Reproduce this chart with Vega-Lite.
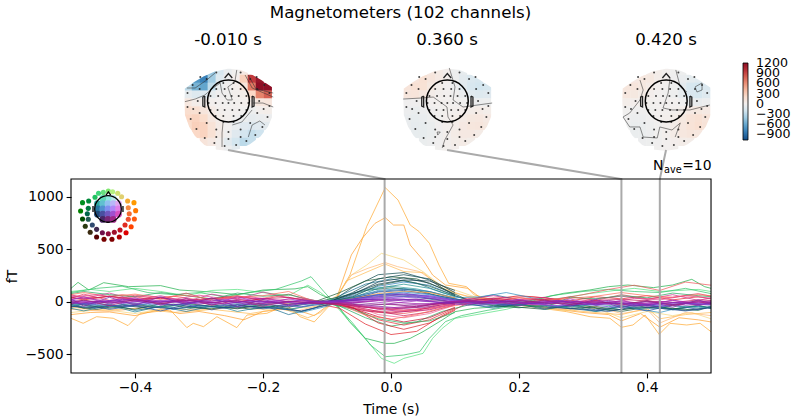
{"$schema":"https://vega.github.io/schema/vega-lite/v6.json","width":719,"height":348,"autosize":{"type":"none"},"padding":{"left":71,"top":25,"right":10,"bottom":47},"background":"white","config":{"font":"DejaVu Sans","view":{"stroke":null}},"title":{"text":"Magnetometers (102 channels)","fontSize":16.67,"fontWeight":"normal","anchor":"middle","frame":"group","dx":-30,"offset":3,"color":"black"},"encoding":{"x":{"field":"x","type":"quantitative","scale":{"domain":[-0.5,0.6234],"nice":false,"zero":false},"axis":{"values":[-0.4,-0.2,0,0.2,0.4],"format":".1f","grid":false,"domain":false,"tickColor":"black","tickSize":4.9,"tickWidth":1.1,"labelFontSize":13.9,"labelColor":"black","labelPadding":3,"title":"Time (s)","titleFontSize":13.9,"titleFontWeight":"normal","titleColor":"black","titleX":320,"titleY":29}},"y":{"field":"y","type":"quantitative","scale":{"domain":[-676.2,2638.1],"nice":false,"zero":false},"axis":{"values":[-500,0,500,1000],"format":"d","grid":false,"domain":false,"tickColor":"black","tickSize":4.9,"tickWidth":1.1,"labelFontSize":13.9,"labelColor":"black","labelPadding":3,"title":"fT","titleFontSize":13.9,"titleFontWeight":"normal","titleColor":"black","titleX":-52,"titleY":251}}},"resolve":{"scale":{"color":"independent"}},"layer":[
{"data":{"values":[
{"x":-0.28,"y":2200,"v":-450},{"x":-0.2675,"y":2200,"v":-170},{"x":-0.255,"y":2200,"v":-60},{"x":-0.2425,"y":2200,"v":-10},{"x":-0.23,"y":2200,"v":80},
{"x":-0.305,"y":2125,"v":-700},{"x":-0.2925,"y":2125,"v":-800},{"x":-0.28,"y":2125,"v":-400},{"x":-0.2675,"y":2125,"v":-130},{"x":-0.255,"y":2125,"v":-40},{"x":-0.2425,"y":2125,"v":20},{"x":-0.23,"y":2125,"v":300},{"x":-0.2175,"y":2125,"v":950},{"x":-0.205,"y":2125,"v":1150},
{"x":-0.3175,"y":2050,"v":-300},{"x":-0.305,"y":2050,"v":-550},{"x":-0.2925,"y":2050,"v":-620},{"x":-0.28,"y":2050,"v":-280},{"x":-0.2675,"y":2050,"v":-70},{"x":-0.255,"y":2050,"v":-20},{"x":-0.2425,"y":2050,"v":20},{"x":-0.23,"y":2050,"v":130},{"x":-0.2175,"y":2050,"v":700},{"x":-0.205,"y":2050,"v":1200},{"x":-0.1925,"y":2050,"v":1200},
{"x":-0.3175,"y":1975,"v":-80},{"x":-0.305,"y":1975,"v":-130},{"x":-0.2925,"y":1975,"v":-130},{"x":-0.28,"y":1975,"v":-70},{"x":-0.2675,"y":1975,"v":-20},{"x":-0.255,"y":1975,"v":-10},{"x":-0.2425,"y":1975,"v":10},{"x":-0.23,"y":1975,"v":30},{"x":-0.2175,"y":1975,"v":250},{"x":-0.205,"y":1975,"v":650},{"x":-0.1925,"y":1975,"v":800},
{"x":-0.3175,"y":1900,"v":100},{"x":-0.305,"y":1900,"v":40},{"x":-0.2925,"y":1900,"v":20},{"x":-0.28,"y":1900,"v":10},{"x":-0.2675,"y":1900,"v":0},{"x":-0.255,"y":1900,"v":-5},{"x":-0.2425,"y":1900,"v":5},{"x":-0.23,"y":1900,"v":10},{"x":-0.2175,"y":1900,"v":50},{"x":-0.205,"y":1900,"v":100},{"x":-0.1925,"y":1900,"v":120},
{"x":-0.3175,"y":1825,"v":200},{"x":-0.305,"y":1825,"v":180},{"x":-0.2925,"y":1825,"v":120},{"x":-0.28,"y":1825,"v":60},{"x":-0.2675,"y":1825,"v":10},{"x":-0.255,"y":1825,"v":0},{"x":-0.2425,"y":1825,"v":0},{"x":-0.23,"y":1825,"v":-10},{"x":-0.2175,"y":1825,"v":-30},{"x":-0.205,"y":1825,"v":10},{"x":-0.1925,"y":1825,"v":30},
{"x":-0.3175,"y":1750,"v":250},{"x":-0.305,"y":1750,"v":280},{"x":-0.2925,"y":1750,"v":220},{"x":-0.28,"y":1750,"v":100},{"x":-0.2675,"y":1750,"v":30},{"x":-0.255,"y":1750,"v":10},{"x":-0.2425,"y":1750,"v":-20},{"x":-0.23,"y":1750,"v":-50},{"x":-0.2175,"y":1750,"v":-80},{"x":-0.205,"y":1750,"v":-60},{"x":-0.1925,"y":1750,"v":-40},
{"x":-0.3175,"y":1675,"v":220},{"x":-0.305,"y":1675,"v":300},{"x":-0.2925,"y":1675,"v":280},{"x":-0.28,"y":1675,"v":150},{"x":-0.2675,"y":1675,"v":50},{"x":-0.255,"y":1675,"v":0},{"x":-0.2425,"y":1675,"v":-60},{"x":-0.23,"y":1675,"v":-120},{"x":-0.2175,"y":1675,"v":-140},{"x":-0.205,"y":1675,"v":-120},{"x":-0.1925,"y":1675,"v":-100},
{"x":-0.305,"y":1600,"v":250},{"x":-0.2925,"y":1600,"v":280},{"x":-0.28,"y":1600,"v":170},{"x":-0.2675,"y":1600,"v":60},{"x":-0.255,"y":1600,"v":-20},{"x":-0.2425,"y":1600,"v":-120},{"x":-0.23,"y":1600,"v":-200},{"x":-0.2175,"y":1600,"v":-260},{"x":-0.205,"y":1600,"v":-220},
{"x":-0.2925,"y":1525,"v":130},{"x":-0.28,"y":1525,"v":80},{"x":-0.2675,"y":1525,"v":10},{"x":-0.255,"y":1525,"v":-100},{"x":-0.2425,"y":1525,"v":-200},{"x":-0.23,"y":1525,"v":-300},{"x":-0.2175,"y":1525,"v":-260},
{"x":-0.2675,"y":1450,"v":10},{"x":-0.255,"y":1450,"v":-40},{"x":-0.2425,"y":1450,"v":-100},
{"x":0.0625,"y":2200,"v":100},{"x":0.075,"y":2200,"v":60},{"x":0.0875,"y":2200,"v":20},{"x":0.1,"y":2200,"v":-30},{"x":0.1125,"y":2200,"v":-70},
{"x":0.0375,"y":2125,"v":130},{"x":0.05,"y":2125,"v":170},{"x":0.0625,"y":2125,"v":120},{"x":0.075,"y":2125,"v":70},{"x":0.0875,"y":2125,"v":20},{"x":0.1,"y":2125,"v":-30},{"x":0.1125,"y":2125,"v":-100},{"x":0.125,"y":2125,"v":-150},{"x":0.1375,"y":2125,"v":-170},
{"x":0.025,"y":2050,"v":130},{"x":0.0375,"y":2050,"v":170},{"x":0.05,"y":2050,"v":160},{"x":0.0625,"y":2050,"v":90},{"x":0.075,"y":2050,"v":30},{"x":0.0875,"y":2050,"v":0},{"x":0.1,"y":2050,"v":-40},{"x":0.1125,"y":2050,"v":-110},{"x":0.125,"y":2050,"v":-170},{"x":0.1375,"y":2050,"v":-200},{"x":0.15,"y":2050,"v":-180},
{"x":0.025,"y":1975,"v":120},{"x":0.0375,"y":1975,"v":130},{"x":0.05,"y":1975,"v":90},{"x":0.0625,"y":1975,"v":40},{"x":0.075,"y":1975,"v":10},{"x":0.0875,"y":1975,"v":0},{"x":0.1,"y":1975,"v":-20},{"x":0.1125,"y":1975,"v":-60},{"x":0.125,"y":1975,"v":-110},{"x":0.1375,"y":1975,"v":-130},{"x":0.15,"y":1975,"v":-120},
{"x":0.025,"y":1900,"v":-20},{"x":0.0375,"y":1900,"v":-20},{"x":0.05,"y":1900,"v":-10},{"x":0.0625,"y":1900,"v":0},{"x":0.075,"y":1900,"v":5},{"x":0.0875,"y":1900,"v":0},{"x":0.1,"y":1900,"v":-5},{"x":0.1125,"y":1900,"v":-10},{"x":0.125,"y":1900,"v":-20},{"x":0.1375,"y":1900,"v":-40},{"x":0.15,"y":1900,"v":-30},
{"x":0.025,"y":1825,"v":-40},{"x":0.0375,"y":1825,"v":-50},{"x":0.05,"y":1825,"v":-40},{"x":0.0625,"y":1825,"v":-20},{"x":0.075,"y":1825,"v":-5},{"x":0.0875,"y":1825,"v":5},{"x":0.1,"y":1825,"v":10},{"x":0.1125,"y":1825,"v":20},{"x":0.125,"y":1825,"v":40},{"x":0.1375,"y":1825,"v":50},{"x":0.15,"y":1825,"v":30},
{"x":0.025,"y":1750,"v":-60},{"x":0.0375,"y":1750,"v":-70},{"x":0.05,"y":1750,"v":-60},{"x":0.0625,"y":1750,"v":-30},{"x":0.075,"y":1750,"v":-10},{"x":0.0875,"y":1750,"v":10},{"x":0.1,"y":1750,"v":30},{"x":0.1125,"y":1750,"v":60},{"x":0.125,"y":1750,"v":90},{"x":0.1375,"y":1750,"v":100},{"x":0.15,"y":1750,"v":70},
{"x":0.025,"y":1675,"v":-60},{"x":0.0375,"y":1675,"v":-80},{"x":0.05,"y":1675,"v":-70},{"x":0.0625,"y":1675,"v":-50},{"x":0.075,"y":1675,"v":-15},{"x":0.0875,"y":1675,"v":10},{"x":0.1,"y":1675,"v":40},{"x":0.1125,"y":1675,"v":80},{"x":0.125,"y":1675,"v":110},{"x":0.1375,"y":1675,"v":120},{"x":0.15,"y":1675,"v":90},
{"x":0.0375,"y":1600,"v":-70},{"x":0.05,"y":1600,"v":-70},{"x":0.0625,"y":1600,"v":-50},{"x":0.075,"y":1600,"v":-20},{"x":0.0875,"y":1600,"v":10},{"x":0.1,"y":1600,"v":50},{"x":0.1125,"y":1600,"v":80},{"x":0.125,"y":1600,"v":80},{"x":0.1375,"y":1600,"v":50},
{"x":0.05,"y":1525,"v":-50},{"x":0.0625,"y":1525,"v":-40},{"x":0.075,"y":1525,"v":-20},{"x":0.0875,"y":1525,"v":10},{"x":0.1,"y":1525,"v":40},{"x":0.1125,"y":1525,"v":50},{"x":0.125,"y":1525,"v":30},
{"x":0.075,"y":1450,"v":-10},{"x":0.0875,"y":1450,"v":5},{"x":0.1,"y":1450,"v":20},
{"x":0.405,"y":2200,"v":60},{"x":0.4175,"y":2200,"v":40},{"x":0.43,"y":2200,"v":10},{"x":0.4425,"y":2200,"v":-10},{"x":0.455,"y":2200,"v":-30},
{"x":0.38,"y":2125,"v":80},{"x":0.3925,"y":2125,"v":100},{"x":0.405,"y":2125,"v":90},{"x":0.4175,"y":2125,"v":40},{"x":0.43,"y":2125,"v":10},{"x":0.4425,"y":2125,"v":-20},{"x":0.455,"y":2125,"v":-60},{"x":0.4675,"y":2125,"v":-90},{"x":0.48,"y":2125,"v":-110},
{"x":0.3675,"y":2050,"v":110},{"x":0.38,"y":2050,"v":120},{"x":0.3925,"y":2050,"v":90},{"x":0.405,"y":2050,"v":50},{"x":0.4175,"y":2050,"v":10},{"x":0.43,"y":2050,"v":-5},{"x":0.4425,"y":2050,"v":-30},{"x":0.455,"y":2050,"v":-100},{"x":0.4675,"y":2050,"v":-180},{"x":0.48,"y":2050,"v":-200},{"x":0.4925,"y":2050,"v":-150},
{"x":0.3675,"y":1975,"v":100},{"x":0.38,"y":1975,"v":90},{"x":0.3925,"y":1975,"v":50},{"x":0.405,"y":1975,"v":20},{"x":0.4175,"y":1975,"v":0},{"x":0.43,"y":1975,"v":-10},{"x":0.4425,"y":1975,"v":-30},{"x":0.455,"y":1975,"v":-80},{"x":0.4675,"y":1975,"v":-160},{"x":0.48,"y":1975,"v":-180},{"x":0.4925,"y":1975,"v":-130},
{"x":0.3675,"y":1900,"v":30},{"x":0.38,"y":1900,"v":20},{"x":0.3925,"y":1900,"v":10},{"x":0.405,"y":1900,"v":5},{"x":0.4175,"y":1900,"v":0},{"x":0.43,"y":1900,"v":0},{"x":0.4425,"y":1900,"v":0},{"x":0.455,"y":1900,"v":-20},{"x":0.4675,"y":1900,"v":-50},{"x":0.48,"y":1900,"v":-60},{"x":0.4925,"y":1900,"v":-40},
{"x":0.3675,"y":1825,"v":-10},{"x":0.38,"y":1825,"v":-20},{"x":0.3925,"y":1825,"v":-20},{"x":0.405,"y":1825,"v":-10},{"x":0.4175,"y":1825,"v":0},{"x":0.43,"y":1825,"v":0},{"x":0.4425,"y":1825,"v":10},{"x":0.455,"y":1825,"v":30},{"x":0.4675,"y":1825,"v":70},{"x":0.48,"y":1825,"v":90},{"x":0.4925,"y":1825,"v":70},
{"x":0.3675,"y":1750,"v":-20},{"x":0.38,"y":1750,"v":-40},{"x":0.3925,"y":1750,"v":-40},{"x":0.405,"y":1750,"v":-20},{"x":0.4175,"y":1750,"v":0},{"x":0.43,"y":1750,"v":10},{"x":0.4425,"y":1750,"v":30},{"x":0.455,"y":1750,"v":90},{"x":0.4675,"y":1750,"v":140},{"x":0.48,"y":1750,"v":170},{"x":0.4925,"y":1750,"v":130},
{"x":0.3675,"y":1675,"v":-30},{"x":0.38,"y":1675,"v":-50},{"x":0.3925,"y":1675,"v":-50},{"x":0.405,"y":1675,"v":-30},{"x":0.4175,"y":1675,"v":-10},{"x":0.43,"y":1675,"v":10},{"x":0.4425,"y":1675,"v":40},{"x":0.455,"y":1675,"v":100},{"x":0.4675,"y":1675,"v":150},{"x":0.48,"y":1675,"v":180},{"x":0.4925,"y":1675,"v":140},
{"x":0.38,"y":1600,"v":-50},{"x":0.3925,"y":1600,"v":-50},{"x":0.405,"y":1600,"v":-40},{"x":0.4175,"y":1600,"v":-10},{"x":0.43,"y":1600,"v":10},{"x":0.4425,"y":1600,"v":50},{"x":0.455,"y":1600,"v":100},{"x":0.4675,"y":1600,"v":120},{"x":0.48,"y":1600,"v":100},
{"x":0.3925,"y":1525,"v":-40},{"x":0.405,"y":1525,"v":-30},{"x":0.4175,"y":1525,"v":-20},{"x":0.43,"y":1525,"v":0},{"x":0.4425,"y":1525,"v":20},{"x":0.455,"y":1525,"v":40},{"x":0.4675,"y":1525,"v":40},
{"x":0.4175,"y":1450,"v":-10},{"x":0.43,"y":1450,"v":0},{"x":0.4425,"y":1450,"v":10}
]},"mark":{"type":"square","size":68,"opacity":1,"filled":true},"encoding":{"color":{"field":"v","type":"quantitative","scale":{"scheme":"redblue","reverse":true,"domain":[-1065,1203],"domainMid":0},"legend":{"orient":"none","legendX":672,"legendY":38,"title":null,"gradientLength":77,"gradientThickness":5,"values":[1200,900,600,300,0,-300,-600,-900],"labelOverlap":false,"labelFontSize":12.6,"labelColor":"black","labelOffset":8,"gradientStrokeColor":"black","gradientStrokeWidth":0.8,"format":"d"}}}},
{"data":{"values":[
{"k":"a","x":-0.3297,"y":2057},{"k":"a","x":-0.3109,"y":2138},{"k":"a","x":-0.2953,"y":2195},{"k":"a","x":-0.2766,"y":2243},{"k":"a","x":-0.2547,"y":2271},{"k":"a","x":-0.2328,"y":2257},{"k":"a","x":-0.2156,"y":2214},{"k":"a","x":-0.1969,"y":2148},{"k":"a","x":-0.1766,"y":2067},{"k":"a","x":-0.1758,"y":1924},{"k":"a","x":-0.1766,"y":1771},{"k":"a","x":-0.1852,"y":1648},{"k":"a","x":-0.1984,"y":1543},{"k":"a","x":-0.2164,"y":1462},{"k":"a","x":-0.2344,"y":1410},{"k":"a","x":-0.2547,"y":1390},{"k":"a","x":-0.275,"y":1405},{"k":"a","x":-0.2953,"y":1452},{"k":"a","x":-0.3125,"y":1552},{"k":"a","x":-0.3227,"y":1652},{"k":"a","x":-0.3297,"y":1771},{"k":"a","x":-0.3305,"y":1924},{"k":"a","x":-0.3297,"y":2057},
{"k":"b","x":0.0123,"y":2057},{"k":"b","x":0.0311,"y":2138},{"k":"b","x":0.0467,"y":2195},{"k":"b","x":0.0654,"y":2243},{"k":"b","x":0.0873,"y":2271},{"k":"b","x":0.1092,"y":2257},{"k":"b","x":0.1264,"y":2214},{"k":"b","x":0.1451,"y":2148},{"k":"b","x":0.1654,"y":2067},{"k":"b","x":0.1662,"y":1924},{"k":"b","x":0.1654,"y":1771},{"k":"b","x":0.1568,"y":1648},{"k":"b","x":0.1436,"y":1543},{"k":"b","x":0.1256,"y":1462},{"k":"b","x":0.1076,"y":1410},{"k":"b","x":0.0873,"y":1390},{"k":"b","x":0.067,"y":1405},{"k":"b","x":0.0467,"y":1452},{"k":"b","x":0.0295,"y":1552},{"k":"b","x":0.0193,"y":1652},{"k":"b","x":0.0123,"y":1771},{"k":"b","x":0.0115,"y":1924},{"k":"b","x":0.0123,"y":2057},
{"k":"c","x":0.3543,"y":2057},{"k":"c","x":0.3731,"y":2138},{"k":"c","x":0.3887,"y":2195},{"k":"c","x":0.4074,"y":2243},{"k":"c","x":0.4293,"y":2271},{"k":"c","x":0.4512,"y":2257},{"k":"c","x":0.4684,"y":2214},{"k":"c","x":0.4871,"y":2148},{"k":"c","x":0.5074,"y":2067},{"k":"c","x":0.5082,"y":1924},{"k":"c","x":0.5074,"y":1771},{"k":"c","x":0.4988,"y":1648},{"k":"c","x":0.4856,"y":1543},{"k":"c","x":0.4676,"y":1462},{"k":"c","x":0.4496,"y":1410},{"k":"c","x":0.4293,"y":1390},{"k":"c","x":0.409,"y":1405},{"k":"c","x":0.3887,"y":1452},{"k":"c","x":0.3715,"y":1552},{"k":"c","x":0.3613,"y":1652},{"k":"c","x":0.3543,"y":1771},{"k":"c","x":0.3535,"y":1924},{"k":"c","x":0.3543,"y":2057}
]},"mark":{"type":"line","stroke":"white","strokeWidth":10},"encoding":{"detail":{"field":"k"},"order":{"value":null}}},
{"data":{"values":[
{"k":"a","x":-0.322,"y":1908},{"k":"a","x":-0.306,"y":1933},{"k":"a","x":-0.291,"y":1971},{"k":"a","x":-0.278,"y":2038},{"k":"a","x":-0.267,"y":2086},{"k":"a","x":-0.264,"y":1990},{"k":"a","x":-0.256,"y":1924},{"k":"a","x":-0.248,"y":1924},{"k":"a","x":-0.255,"y":2048},{"k":"a","x":-0.244,"y":2095},{"k":"a","x":-0.241,"y":2210},
{"k":"b","x":-0.216,"y":1895},{"k":"b","x":-0.2,"y":1895},{"k":"b","x":-0.184,"y":1857},
{"k":"c","x":-0.2625,"y":1705},{"k":"c","x":-0.264,"y":1610},{"k":"c","x":-0.264,"y":1476},
{"k":"d","x":-0.248,"y":1686},{"k":"d","x":-0.233,"y":1714},{"k":"d","x":-0.217,"y":1829},
{"k":"e","x":-0.223,"y":1571},{"k":"e","x":-0.217,"y":1686},{"k":"e","x":-0.205,"y":1724},{"k":"e","x":-0.197,"y":1686},
{"k":"f","x":-0.228,"y":2162},{"k":"f","x":-0.217,"y":2038},{"k":"f","x":-0.184,"y":1952},
{"k":"g","x":-0.223,"y":2162},{"k":"g","x":-0.211,"y":2029},{"k":"g","x":-0.184,"y":1990},
{"k":"h","x":-0.319,"y":2038},{"k":"h","x":-0.306,"y":2038},{"k":"h","x":-0.288,"y":2114},{"k":"h","x":-0.275,"y":2181},
{"k":"i","x":0.019,"y":1933},{"k":"i","x":0.048,"y":1943},{"k":"i","x":0.066,"y":1952},{"k":"i","x":0.0875,"y":1857},{"k":"i","x":0.089,"y":1762},{"k":"i","x":0.097,"y":1686},{"k":"i","x":0.084,"y":1543},{"k":"i","x":0.08,"y":1467},
{"k":"j","x":0.091,"y":2229},{"k":"j","x":0.1,"y":2048},{"k":"j","x":0.097,"y":1924},{"k":"j","x":0.1125,"y":1857},{"k":"j","x":0.158,"y":1895},
{"k":"l","x":0.072,"y":1619},{"k":"l","x":0.077,"y":1619},{"k":"l","x":0.073,"y":1590},{"k":"l","x":0.072,"y":1619},
{"k":"m","x":0.3625,"y":1762},{"k":"m","x":0.373,"y":1800},{"k":"m","x":0.389,"y":1924},{"k":"m","x":0.394,"y":2019},{"k":"m","x":0.389,"y":2114},
{"k":"n","x":0.436,"y":2133},{"k":"n","x":0.433,"y":1990},{"k":"n","x":0.425,"y":1848},{"k":"n","x":0.439,"y":1829},{"k":"n","x":0.467,"y":1829},{"k":"n","x":0.498,"y":1876},
{"k":"o","x":0.445,"y":2210},{"k":"o","x":0.452,"y":2048},{"k":"o","x":0.4625,"y":2000},
{"k":"p","x":0.475,"y":2048},{"k":"p","x":0.486,"y":2086},{"k":"p","x":0.486,"y":2019},{"k":"p","x":0.478,"y":2000},{"k":"p","x":0.475,"y":2048},
{"k":"q","x":0.3625,"y":1762},{"k":"q","x":0.373,"y":1667},{"k":"q","x":0.389,"y":1667},{"k":"q","x":0.394,"y":1571},{"k":"q","x":0.416,"y":1562},{"k":"q","x":0.42,"y":1667},{"k":"q","x":0.439,"y":1638},{"k":"q","x":0.452,"y":1705},{"k":"q","x":0.444,"y":1571}
]},"mark":{"type":"line","stroke":"#333333","strokeWidth":0.7,"opacity":0.8},"encoding":{"detail":{"field":"k"},"order":{"value":null}}},
{"data":{"values":[
{"x":-0.262,"y":2085},{"x":-0.246,"y":2085},{"x":-0.273,"y":2028},{"x":-0.26,"y":2028},{"x":-0.248,"y":2028},{"x":-0.235,"y":2028},{"x":-0.282,"y":1962},{"x":-0.27,"y":1962},{"x":-0.259,"y":1962},{"x":-0.249,"y":1962},{"x":-0.238,"y":1962},{"x":-0.226,"y":1962},{"x":-0.285,"y":1895},{"x":-0.274,"y":1895},{"x":-0.263,"y":1895},{"x":-0.254,"y":1895},{"x":-0.245,"y":1895},{"x":-0.234,"y":1895},{"x":-0.223,"y":1895},{"x":-0.282,"y":1828},{"x":-0.271,"y":1828},{"x":-0.26,"y":1828},{"x":-0.248,"y":1828},{"x":-0.237,"y":1828},{"x":-0.226,"y":1828},{"x":-0.274,"y":1771},{"x":-0.262,"y":1771},{"x":-0.246,"y":1771},{"x":-0.234,"y":1771},{"x":-0.262,"y":1714},{"x":-0.246,"y":1714},{"x":-0.206,"y":1914},{"x":-0.209,"y":1800},{"x":-0.22,"y":1704},{"x":-0.235,"y":1642},{"x":-0.254,"y":1619},{"x":-0.273,"y":1642},{"x":-0.288,"y":1704},{"x":-0.299,"y":1800},{"x":-0.302,"y":1914},{"x":-0.299,"y":2028},{"x":-0.288,"y":2124},{"x":-0.273,"y":2186},{"x":-0.235,"y":2186},{"x":-0.22,"y":2124},{"x":-0.209,"y":2028},{"x":-0.19,"y":1990},{"x":-0.19,"y":1866},{"x":-0.193,"y":1762},{"x":-0.201,"y":1666},{"x":-0.212,"y":1590},{"x":-0.226,"y":1533},{"x":-0.242,"y":1495},{"x":-0.26,"y":1485},{"x":-0.276,"y":1514},{"x":-0.291,"y":1562},{"x":-0.304,"y":1647},{"x":-0.313,"y":1743},{"x":-0.318,"y":1857},{"x":-0.318,"y":1990},{"x":-0.31,"y":2066},{"x":-0.198,"y":2066},{"x":-0.21,"y":2143},{"x":-0.298,"y":2143},{"x":-0.235,"y":1571},{"x":-0.273,"y":1571},{"x":-0.254,"y":1552},{"x":-0.309,"y":1838},{"x":-0.199,"y":1838},
{"x":0.08,"y":2085},{"x":0.096,"y":2085},{"x":0.069,"y":2028},{"x":0.082,"y":2028},{"x":0.094,"y":2028},{"x":0.107,"y":2028},{"x":0.06,"y":1962},{"x":0.072,"y":1962},{"x":0.083,"y":1962},{"x":0.093,"y":1962},{"x":0.104,"y":1962},{"x":0.116,"y":1962},{"x":0.057,"y":1895},{"x":0.068,"y":1895},{"x":0.079,"y":1895},{"x":0.088,"y":1895},{"x":0.097,"y":1895},{"x":0.108,"y":1895},{"x":0.119,"y":1895},{"x":0.06,"y":1828},{"x":0.071,"y":1828},{"x":0.082,"y":1828},{"x":0.094,"y":1828},{"x":0.105,"y":1828},{"x":0.116,"y":1828},{"x":0.068,"y":1771},{"x":0.08,"y":1771},{"x":0.096,"y":1771},{"x":0.108,"y":1771},{"x":0.08,"y":1714},{"x":0.096,"y":1714},{"x":0.136,"y":1914},{"x":0.133,"y":1800},{"x":0.122,"y":1704},{"x":0.107,"y":1642},{"x":0.088,"y":1619},{"x":0.069,"y":1642},{"x":0.054,"y":1704},{"x":0.043,"y":1800},{"x":0.04,"y":1914},{"x":0.043,"y":2028},{"x":0.054,"y":2124},{"x":0.069,"y":2186},{"x":0.107,"y":2186},{"x":0.122,"y":2124},{"x":0.133,"y":2028},{"x":0.152,"y":1990},{"x":0.152,"y":1866},{"x":0.149,"y":1762},{"x":0.141,"y":1666},{"x":0.13,"y":1590},{"x":0.116,"y":1533},{"x":0.1,"y":1495},{"x":0.082,"y":1485},{"x":0.066,"y":1514},{"x":0.051,"y":1562},{"x":0.038,"y":1647},{"x":0.029,"y":1743},{"x":0.024,"y":1857},{"x":0.024,"y":1990},{"x":0.032,"y":2066},{"x":0.144,"y":2066},{"x":0.132,"y":2143},{"x":0.044,"y":2143},{"x":0.107,"y":1571},{"x":0.069,"y":1571},{"x":0.088,"y":1552},{"x":0.033,"y":1838},{"x":0.143,"y":1838},
{"x":0.422,"y":2085},{"x":0.438,"y":2085},{"x":0.411,"y":2028},{"x":0.424,"y":2028},{"x":0.436,"y":2028},{"x":0.449,"y":2028},{"x":0.402,"y":1962},{"x":0.414,"y":1962},{"x":0.425,"y":1962},{"x":0.435,"y":1962},{"x":0.446,"y":1962},{"x":0.458,"y":1962},{"x":0.399,"y":1895},{"x":0.41,"y":1895},{"x":0.421,"y":1895},{"x":0.43,"y":1895},{"x":0.439,"y":1895},{"x":0.45,"y":1895},{"x":0.461,"y":1895},{"x":0.402,"y":1828},{"x":0.413,"y":1828},{"x":0.424,"y":1828},{"x":0.436,"y":1828},{"x":0.447,"y":1828},{"x":0.458,"y":1828},{"x":0.41,"y":1771},{"x":0.422,"y":1771},{"x":0.438,"y":1771},{"x":0.45,"y":1771},{"x":0.422,"y":1714},{"x":0.438,"y":1714},{"x":0.478,"y":1914},{"x":0.475,"y":1800},{"x":0.464,"y":1704},{"x":0.449,"y":1642},{"x":0.43,"y":1619},{"x":0.411,"y":1642},{"x":0.396,"y":1704},{"x":0.385,"y":1800},{"x":0.382,"y":1914},{"x":0.385,"y":2028},{"x":0.396,"y":2124},{"x":0.411,"y":2186},{"x":0.449,"y":2186},{"x":0.464,"y":2124},{"x":0.475,"y":2028},{"x":0.494,"y":1990},{"x":0.494,"y":1866},{"x":0.491,"y":1762},{"x":0.483,"y":1666},{"x":0.472,"y":1590},{"x":0.458,"y":1533},{"x":0.442,"y":1495},{"x":0.424,"y":1485},{"x":0.408,"y":1514},{"x":0.393,"y":1562},{"x":0.38,"y":1647},{"x":0.371,"y":1743},{"x":0.366,"y":1857},{"x":0.366,"y":1990},{"x":0.374,"y":2066},{"x":0.486,"y":2066},{"x":0.474,"y":2143},{"x":0.386,"y":2143},{"x":0.449,"y":1571},{"x":0.411,"y":1571},{"x":0.43,"y":1552},{"x":0.375,"y":1838},{"x":0.485,"y":1838}
]},"mark":{"type":"point","shape":"circle","filled":true,"size":4,"color":"#222222","opacity":0.85}},
{"data":{"values":[
{"k":"a1","x":-0.26,"y":2133},{"k":"a1","x":-0.254,"y":2176},{"k":"a1","x":-0.248,"y":2133},{"k":"a2","x":-0.291,"y":1962},{"k":"a2","x":-0.294,"y":1952},{"k":"a2","x":-0.294,"y":1866},{"k":"a2","x":-0.291,"y":1857},{"k":"a2","x":-0.291,"y":1962},{"k":"a3","x":-0.217,"y":1962},{"k":"a3","x":-0.214,"y":1952},{"k":"a3","x":-0.214,"y":1866},{"k":"a3","x":-0.217,"y":1857},{"k":"a3","x":-0.217,"y":1962},
{"k":"b1","x":0.082,"y":2133},{"k":"b1","x":0.088,"y":2176},{"k":"b1","x":0.094,"y":2133},{"k":"b2","x":0.051,"y":1962},{"k":"b2","x":0.048,"y":1952},{"k":"b2","x":0.048,"y":1866},{"k":"b2","x":0.051,"y":1857},{"k":"b2","x":0.051,"y":1962},{"k":"b3","x":0.125,"y":1962},{"k":"b3","x":0.128,"y":1952},{"k":"b3","x":0.128,"y":1866},{"k":"b3","x":0.125,"y":1857},{"k":"b3","x":0.125,"y":1962},
{"k":"c1","x":0.424,"y":2133},{"k":"c1","x":0.43,"y":2176},{"k":"c1","x":0.436,"y":2133},{"k":"c2","x":0.393,"y":1962},{"k":"c2","x":0.39,"y":1952},{"k":"c2","x":0.39,"y":1866},{"k":"c2","x":0.393,"y":1857},{"k":"c2","x":0.393,"y":1962},{"k":"c3","x":0.467,"y":1962},{"k":"c3","x":0.47,"y":1952},{"k":"c3","x":0.47,"y":1866},{"k":"c3","x":0.467,"y":1857},{"k":"c3","x":0.467,"y":1962}
]},"mark":{"type":"line","stroke":"#222222","strokeWidth":1.3},"encoding":{"detail":{"field":"k"},"order":{"value":null}}},
{"data":{"values":[{"x":-0.254,"y":1914},{"x":0.088,"y":1914},{"x":0.43,"y":1914}]},"mark":{"type":"point","shape":"circle","filled":false,"size":1750,"stroke":"black","strokeWidth":1.5,"opacity":1}},
{"data":{"values":[
{"c":1,"x":-0.5,"y":-155},{"c":1,"x":-0.481,"y":-203},{"c":1,"x":-0.46,"y":-140},{"c":1,"x":-0.434,"y":-155},{"c":1,"x":-0.411,"y":-225},{"c":1,"x":-0.392,"y":-108},{"c":1,"x":-0.345,"y":-76},{"c":1,"x":-0.319,"y":-244},{"c":1,"x":-0.309,"y":-203},{"c":1,"x":-0.293,"y":-235},{"c":1,"x":-0.272,"y":-140},{"c":1,"x":-0.241,"y":-244},{"c":1,"x":-0.225,"y":-124},{"c":1,"x":-0.194,"y":-108},{"c":1,"x":-0.163,"y":-28},{"c":1,"x":-0.142,"y":-140},{"c":1,"x":-0.12,"y":-190},{"c":1,"x":-0.1,"y":-60},{"c":1,"x":-0.085,"y":35},{"c":1,"x":-0.064,"y":260},{"c":1,"x":-0.038,"y":720},{"c":1,"x":-0.009,"y":1089},{"c":1,"x":0.011,"y":971},{"c":1,"x":0.03,"y":733},{"c":1,"x":0.044,"y":670},{"c":1,"x":0.06,"y":559},{"c":1,"x":0.075,"y":352},{"c":1,"x":0.09,"y":178},{"c":1,"x":0.118,"y":146},{"c":1,"x":0.13,"y":67},{"c":1,"x":0.16,"y":20},{"c":1,"x":0.2,"y":-30},{"c":1,"x":0.2745,"y":-92},{"c":1,"x":0.311,"y":-140},{"c":1,"x":0.342,"y":-155},{"c":1,"x":0.36,"y":-241},{"c":1,"x":0.378,"y":-219},{"c":1,"x":0.397,"y":-124},{"c":1,"x":0.419,"y":-308},{"c":1,"x":0.436,"y":-203},{"c":1,"x":0.462,"y":-219},{"c":1,"x":0.483,"y":-203},{"c":1,"x":0.5,"y":-283},
{"c":2,"x":-0.5,"y":-120},{"c":2,"x":-0.47,"y":-100},{"c":2,"x":-0.44,"y":-95},{"c":2,"x":-0.4,"y":-130},{"c":2,"x":-0.36,"y":-70},{"c":2,"x":-0.33,"y":-110},{"c":2,"x":-0.3,"y":-90},{"c":2,"x":-0.26,"y":-130},{"c":2,"x":-0.23,"y":-170},{"c":2,"x":-0.2,"y":-90},{"c":2,"x":-0.17,"y":-70},{"c":2,"x":-0.14,"y":-90},{"c":2,"x":-0.12,"y":-130},{"c":2,"x":-0.1,"y":-40},{"c":2,"x":-0.085,"y":35},{"c":2,"x":-0.062,"y":448},{"c":2,"x":-0.045,"y":606},{"c":2,"x":-0.025,"y":749},{"c":2,"x":-0.009,"y":803},{"c":2,"x":0.004,"y":733},{"c":2,"x":0.02,"y":733},{"c":2,"x":0.03,"y":543},{"c":2,"x":0.05,"y":400},{"c":2,"x":0.065,"y":257},{"c":2,"x":0.085,"y":162},{"c":2,"x":0.12,"y":130},{"c":2,"x":0.14,"y":40},{"c":2,"x":0.17,"y":10},{"c":2,"x":0.22,"y":-30},{"c":2,"x":0.26,"y":-70},{"c":2,"x":0.3,"y":-100},{"c":2,"x":0.34,"y":-120},{"c":2,"x":0.36,"y":-180},{"c":2,"x":0.39,"y":-110},{"c":2,"x":0.42,"y":-240},{"c":2,"x":0.45,"y":-150},{"c":2,"x":0.48,"y":-170},{"c":2,"x":0.5,"y":-190},
{"c":3,"x":-0.5,"y":-100},{"c":3,"x":-0.45,"y":-70},{"c":3,"x":-0.4,"y":-110},{"c":3,"x":-0.35,"y":-60},{"c":3,"x":-0.3,"y":-80},{"c":3,"x":-0.25,"y":-50},{"c":3,"x":-0.2,"y":-70},{"c":3,"x":-0.15,"y":-60},{"c":3,"x":-0.11,"y":-40},{"c":3,"x":-0.085,"y":60},{"c":3,"x":-0.062,"y":257},{"c":3,"x":-0.038,"y":352},{"c":3,"x":-0.015,"y":463},{"c":3,"x":-0.009,"y":454},{"c":3,"x":0.02,"y":400},{"c":3,"x":0.05,"y":289},{"c":3,"x":0.077,"y":162},{"c":3,"x":0.1,"y":114},{"c":3,"x":0.13,"y":51},{"c":3,"x":0.17,"y":-20},{"c":3,"x":0.22,"y":-40},{"c":3,"x":0.27,"y":-80},{"c":3,"x":0.32,"y":-60},{"c":3,"x":0.36,"y":-150},{"c":3,"x":0.4,"y":-90},{"c":3,"x":0.44,"y":-130},{"c":3,"x":0.47,"y":-100},{"c":3,"x":0.5,"y":-160},
{"c":4,"x":-0.5,"y":-70},{"c":4,"x":-0.44,"y":-90},{"c":4,"x":-0.38,"y":-50},{"c":4,"x":-0.32,"y":-70},{"c":4,"x":-0.26,"y":-60},{"c":4,"x":-0.2,"y":-40},{"c":4,"x":-0.15,"y":-90},{"c":4,"x":-0.11,"y":-30},{"c":4,"x":-0.085,"y":50},{"c":4,"x":-0.062,"y":257},{"c":4,"x":-0.036,"y":321},{"c":4,"x":-0.009,"y":375},{"c":4,"x":0.01,"y":337},{"c":4,"x":0.045,"y":289},{"c":4,"x":0.068,"y":194},{"c":4,"x":0.1,"y":83},{"c":4,"x":0.14,"y":30},{"c":4,"x":0.2,"y":-10},{"c":4,"x":0.26,"y":-70},{"c":4,"x":0.32,"y":-40},{"c":4,"x":0.36,"y":-110},{"c":4,"x":0.4,"y":-70},{"c":4,"x":0.42,"y":-200},{"c":4,"x":0.46,"y":-100},{"c":4,"x":0.5,"y":-130},
{"c":5,"x":-0.5,"y":-50},{"c":5,"x":-0.45,"y":-80},{"c":5,"x":-0.4,"y":-60},{"c":5,"x":-0.34,"y":-100},{"c":5,"x":-0.28,"y":-70},{"c":5,"x":-0.22,"y":-110},{"c":5,"x":-0.17,"y":-60},{"c":5,"x":-0.13,"y":-150},{"c":5,"x":-0.11,"y":-100},{"c":5,"x":-0.085,"y":30},{"c":5,"x":-0.07,"y":200},{"c":5,"x":-0.036,"y":290},{"c":5,"x":-0.009,"y":360},{"c":5,"x":0.02,"y":290},{"c":5,"x":0.05,"y":280},{"c":5,"x":0.08,"y":130},{"c":5,"x":0.12,"y":50},{"c":5,"x":0.18,"y":0},{"c":5,"x":0.24,"y":-50},{"c":5,"x":0.3,"y":-90},{"c":5,"x":0.36,"y":-120},{"c":5,"x":0.4,"y":-60},{"c":5,"x":0.42,"y":-160},{"c":5,"x":0.46,"y":-120},{"c":5,"x":0.5,"y":-100},
{"c":6,"x":-0.5,"y":130},{"c":6,"x":-0.489,"y":187},{"c":6,"x":-0.472,"y":114},{"c":6,"x":-0.449,"y":184},{"c":6,"x":-0.41,"y":146},{"c":6,"x":-0.36,"y":156},{"c":6,"x":-0.33,"y":114},{"c":6,"x":-0.28,"y":95},{"c":6,"x":-0.24,"y":70},{"c":6,"x":-0.2,"y":114},{"c":6,"x":-0.15,"y":125},{"c":6,"x":-0.13,"y":146},{"c":6,"x":-0.11,"y":70},{"c":6,"x":-0.09,"y":20},{"c":6,"x":-0.065,"y":-187},{"c":6,"x":-0.04,"y":-346},{"c":6,"x":-0.009,"y":-394},{"c":6,"x":0.005,"y":-394},{"c":6,"x":0.03,"y":-346},{"c":6,"x":0.05,"y":-283},{"c":6,"x":0.08,"y":-171},{"c":6,"x":0.1,"y":-92},{"c":6,"x":0.13,"y":-60},{"c":6,"x":0.18,"y":-40},{"c":6,"x":0.23,"y":30},{"c":6,"x":0.27,"y":83},{"c":6,"x":0.31,"y":114},{"c":6,"x":0.34,"y":146},{"c":6,"x":0.37,"y":162},{"c":6,"x":0.41,"y":137},{"c":6,"x":0.44,"y":162},{"c":6,"x":0.47,"y":216},{"c":6,"x":0.49,"y":146},{"c":6,"x":0.5,"y":130},
{"c":7,"x":-0.5,"y":100},{"c":7,"x":-0.47,"y":120},{"c":7,"x":-0.44,"y":100},{"c":7,"x":-0.4,"y":130},{"c":7,"x":-0.36,"y":100},{"c":7,"x":-0.32,"y":60},{"c":7,"x":-0.28,"y":110},{"c":7,"x":-0.24,"y":120},{"c":7,"x":-0.2,"y":90},{"c":7,"x":-0.16,"y":60},{"c":7,"x":-0.13,"y":160},{"c":7,"x":-0.11,"y":90},{"c":7,"x":-0.09,"y":-10},{"c":7,"x":-0.06,"y":-219},{"c":7,"x":-0.036,"y":-378},{"c":7,"x":-0.015,"y":-537},{"c":7,"x":0.005,"y":-584},{"c":7,"x":0.02,"y":-537},{"c":7,"x":0.05,"y":-489},{"c":7,"x":0.065,"y":-346},{"c":7,"x":0.08,"y":-251},{"c":7,"x":0.1,"y":-156},{"c":7,"x":0.13,"y":-124},{"c":7,"x":0.18,"y":-70},{"c":7,"x":0.23,"y":10},{"c":7,"x":0.27,"y":40},{"c":7,"x":0.31,"y":80},{"c":7,"x":0.35,"y":110},{"c":7,"x":0.38,"y":130},{"c":7,"x":0.42,"y":100},{"c":7,"x":0.45,"y":110},{"c":7,"x":0.48,"y":120},{"c":7,"x":0.5,"y":100},
{"c":8,"x":-0.5,"y":90},{"c":8,"x":-0.46,"y":130},{"c":8,"x":-0.42,"y":150},{"c":8,"x":-0.38,"y":90},{"c":8,"x":-0.34,"y":70},{"c":8,"x":-0.3,"y":90},{"c":8,"x":-0.26,"y":50},{"c":8,"x":-0.22,"y":90},{"c":8,"x":-0.18,"y":121},{"c":8,"x":-0.14,"y":200},{"c":8,"x":-0.125,"y":241},{"c":8,"x":-0.105,"y":100},{"c":8,"x":-0.09,"y":0},{"c":8,"x":-0.06,"y":-200},{"c":8,"x":-0.032,"y":-410},{"c":8,"x":-0.009,"y":-521},{"c":8,"x":0.02,"y":-505},{"c":8,"x":0.045,"y":-473},{"c":8,"x":0.06,"y":-346},{"c":8,"x":0.085,"y":-187},{"c":8,"x":0.11,"y":-130},{"c":8,"x":0.15,"y":-80},{"c":8,"x":0.2,"y":-30},{"c":8,"x":0.25,"y":60},{"c":8,"x":0.3,"y":100},{"c":8,"x":0.34,"y":120},{"c":8,"x":0.38,"y":100},{"c":8,"x":0.42,"y":90},{"c":8,"x":0.46,"y":130},{"c":8,"x":0.5,"y":80},
{"c":9,"x":-0.5,"y":60},{"c":9,"x":-0.46,"y":40},{"c":9,"x":-0.42,"y":70},{"c":9,"x":-0.38,"y":30},{"c":9,"x":-0.34,"y":55},{"c":9,"x":-0.3,"y":20},{"c":9,"x":-0.26,"y":45},{"c":9,"x":-0.22,"y":10},{"c":9,"x":-0.18,"y":60},{"c":9,"x":-0.14,"y":25},{"c":9,"x":-0.1,"y":5},{"c":9,"x":-0.06,"y":-60},{"c":9,"x":-0.02,"y":-100},{"c":9,"x":0.02,"y":-110},{"c":9,"x":0.06,"y":-70},{"c":9,"x":0.1,"y":-10},{"c":9,"x":0.14,"y":30},{"c":9,"x":0.18,"y":45},{"c":9,"x":0.22,"y":50},{"c":9,"x":0.26,"y":25},{"c":9,"x":0.3,"y":70},{"c":9,"x":0.34,"y":120},{"c":9,"x":0.38,"y":160},{"c":9,"x":0.42,"y":110},{"c":9,"x":0.46,"y":190},{"c":9,"x":0.5,"y":160},
{"c":10,"x":-0.5,"y":40},{"c":10,"x":-0.48,"y":20},{"c":10,"x":-0.44,"y":55},{"c":10,"x":-0.4,"y":15},{"c":10,"x":-0.36,"y":35},{"c":10,"x":-0.32,"y":-10},{"c":10,"x":-0.28,"y":30},{"c":10,"x":-0.24,"y":60},{"c":10,"x":-0.2,"y":10},{"c":10,"x":-0.16,"y":-20},{"c":10,"x":-0.12,"y":-10},{"c":10,"x":-0.08,"y":-60},{"c":10,"x":-0.04,"y":-210},{"c":10,"x":0,"y":-310},{"c":10,"x":0.04,"y":-280},{"c":10,"x":0.08,"y":-130},{"c":10,"x":0.12,"y":-10},{"c":10,"x":0.16,"y":25},{"c":10,"x":0.2,"y":60},{"c":10,"x":0.24,"y":40},{"c":10,"x":0.28,"y":10},{"c":10,"x":0.32,"y":50},{"c":10,"x":0.36,"y":30},{"c":10,"x":0.4,"y":60},{"c":10,"x":0.44,"y":20},{"c":10,"x":0.48,"y":50},{"c":10,"x":0.5,"y":30},
{"c":11,"x":-0.5,"y":-40},{"c":11,"x":-0.46,"y":-70},{"c":11,"x":-0.42,"y":-30},{"c":11,"x":-0.38,"y":-60},{"c":11,"x":-0.34,"y":-20},{"c":11,"x":-0.3,"y":-55},{"c":11,"x":-0.26,"y":-25},{"c":11,"x":-0.22,"y":-70},{"c":11,"x":-0.18,"y":-40},{"c":11,"x":-0.14,"y":-90},{"c":11,"x":-0.1,"y":-25},{"c":11,"x":-0.06,"y":140},{"c":11,"x":-0.02,"y":260},{"c":11,"x":0.02,"y":280},{"c":11,"x":0.06,"y":210},{"c":11,"x":0.1,"y":60},{"c":11,"x":0.14,"y":-20},{"c":11,"x":0.18,"y":-40},{"c":11,"x":0.22,"y":-10},{"c":11,"x":0.26,"y":-50},{"c":11,"x":0.3,"y":-30},{"c":11,"x":0.34,"y":-80},{"c":11,"x":0.38,"y":-60},{"c":11,"x":0.42,"y":-50},{"c":11,"x":0.46,"y":-80},{"c":11,"x":0.5,"y":-50},
{"c":12,"x":-0.5,"y":-20},{"c":12,"x":-0.48,"y":-50},{"c":12,"x":-0.44,"y":-20},{"c":12,"x":-0.4,"y":-80},{"c":12,"x":-0.36,"y":-45},{"c":12,"x":-0.32,"y":-90},{"c":12,"x":-0.28,"y":-40},{"c":12,"x":-0.24,"y":-60},{"c":12,"x":-0.2,"y":-30},{"c":12,"x":-0.16,"y":-120},{"c":12,"x":-0.12,"y":-60},{"c":12,"x":-0.08,"y":60},{"c":12,"x":-0.04,"y":170},{"c":12,"x":0,"y":220},{"c":12,"x":0.04,"y":180},{"c":12,"x":0.08,"y":90},{"c":12,"x":0.12,"y":20},{"c":12,"x":0.16,"y":70},{"c":12,"x":0.2,"y":20},{"c":12,"x":0.24,"y":-10},{"c":12,"x":0.28,"y":-60},{"c":12,"x":0.32,"y":-90},{"c":12,"x":0.36,"y":-40},{"c":12,"x":0.4,"y":-30},{"c":12,"x":0.44,"y":-70},{"c":12,"x":0.48,"y":-40},{"c":12,"x":0.5,"y":-60},
{"c":13,"x":-0.5,"y":-30},{"c":13,"x":-0.46,"y":-10},{"c":13,"x":-0.42,"y":-45},{"c":13,"x":-0.38,"y":-20},{"c":13,"x":-0.34,"y":-70},{"c":13,"x":-0.3,"y":-35},{"c":13,"x":-0.26,"y":-60},{"c":13,"x":-0.22,"y":-20},{"c":13,"x":-0.18,"y":-50},{"c":13,"x":-0.14,"y":-100},{"c":13,"x":-0.1,"y":-40},{"c":13,"x":-0.06,"y":40},{"c":13,"x":-0.02,"y":110},{"c":13,"x":0.02,"y":130},{"c":13,"x":0.06,"y":100},{"c":13,"x":0.1,"y":40},{"c":13,"x":0.14,"y":50},{"c":13,"x":0.18,"y":90},{"c":13,"x":0.22,"y":40},{"c":13,"x":0.26,"y":-5},{"c":13,"x":0.3,"y":-30},{"c":13,"x":0.34,"y":-10},{"c":13,"x":0.38,"y":-60},{"c":13,"x":0.42,"y":-100},{"c":13,"x":0.46,"y":-40},{"c":13,"x":0.5,"y":-50},
{"c":14,"x":-0.5,"y":-10},{"c":14,"x":-0.48,"y":-30},{"c":14,"x":-0.44,"y":-60},{"c":14,"x":-0.4,"y":-25},{"c":14,"x":-0.36,"y":-50},{"c":14,"x":-0.32,"y":-15},{"c":14,"x":-0.28,"y":-40},{"c":14,"x":-0.24,"y":-65},{"c":14,"x":-0.2,"y":-20},{"c":14,"x":-0.16,"y":-50},{"c":14,"x":-0.12,"y":0},{"c":14,"x":-0.08,"y":90},{"c":14,"x":-0.04,"y":200},{"c":14,"x":0,"y":240},{"c":14,"x":0.04,"y":220},{"c":14,"x":0.08,"y":130},{"c":14,"x":0.12,"y":20},{"c":14,"x":0.16,"y":-10},{"c":14,"x":0.2,"y":-50},{"c":14,"x":0.24,"y":-70},{"c":14,"x":0.28,"y":-30},{"c":14,"x":0.32,"y":-60},{"c":14,"x":0.36,"y":-90},{"c":14,"x":0.4,"y":-50},{"c":14,"x":0.44,"y":-70},{"c":14,"x":0.48,"y":-30},{"c":14,"x":0.5,"y":-60},
{"c":51,"x":-0.5,"y":-60},{"c":51,"x":-0.48,"y":-85},{"c":51,"x":-0.44,"y":-30},{"c":51,"x":-0.4,"y":-95},{"c":51,"x":-0.36,"y":-40},{"c":51,"x":-0.32,"y":-70},{"c":51,"x":-0.28,"y":-20},{"c":51,"x":-0.24,"y":-90},{"c":51,"x":-0.2,"y":-45},{"c":51,"x":-0.16,"y":-70},{"c":51,"x":-0.12,"y":-30},{"c":51,"x":-0.08,"y":-5},{"c":51,"x":-0.04,"y":40},{"c":51,"x":0,"y":60},{"c":51,"x":0.04,"y":45},{"c":51,"x":0.08,"y":10},{"c":51,"x":0.12,"y":-15},{"c":51,"x":0.16,"y":-60},{"c":51,"x":0.2,"y":-20},{"c":51,"x":0.24,"y":-70},{"c":51,"x":0.28,"y":-35},{"c":51,"x":0.32,"y":-90},{"c":51,"x":0.36,"y":-50},{"c":51,"x":0.4,"y":-20},{"c":51,"x":0.44,"y":-75},{"c":51,"x":0.48,"y":-35},{"c":51,"x":0.5,"y":-60},
{"c":52,"x":-0.5,"y":70},{"c":52,"x":-0.48,"y":35},{"c":52,"x":-0.44,"y":85},{"c":52,"x":-0.4,"y":20},{"c":52,"x":-0.36,"y":60},{"c":52,"x":-0.32,"y":5},{"c":52,"x":-0.28,"y":75},{"c":52,"x":-0.24,"y":30},{"c":52,"x":-0.2,"y":95},{"c":52,"x":-0.16,"y":40},{"c":52,"x":-0.12,"y":10},{"c":52,"x":-0.08,"y":-20},{"c":52,"x":-0.04,"y":-50},{"c":52,"x":0,"y":-70},{"c":52,"x":0.04,"y":-40},{"c":52,"x":0.08,"y":-5},{"c":52,"x":0.12,"y":25},{"c":52,"x":0.16,"y":60},{"c":52,"x":0.2,"y":20},{"c":52,"x":0.24,"y":45},{"c":52,"x":0.28,"y":-10},{"c":52,"x":0.32,"y":30},{"c":52,"x":0.36,"y":55},{"c":52,"x":0.4,"y":25},{"c":52,"x":0.44,"y":70},{"c":52,"x":0.48,"y":15},{"c":52,"x":0.5,"y":40},
{"c":54,"x":-0.5,"y":-50},{"c":54,"x":-0.48,"y":-20},{"c":54,"x":-0.44,"y":-70},{"c":54,"x":-0.4,"y":-35},{"c":54,"x":-0.36,"y":-85},{"c":54,"x":-0.32,"y":-25},{"c":54,"x":-0.28,"y":-75},{"c":54,"x":-0.24,"y":-30},{"c":54,"x":-0.2,"y":-65},{"c":54,"x":-0.16,"y":-40},{"c":54,"x":-0.12,"y":-15},{"c":54,"x":-0.08,"y":20},{"c":54,"x":-0.04,"y":60},{"c":54,"x":0,"y":75},{"c":54,"x":0.04,"y":55},{"c":54,"x":0.08,"y":15},{"c":54,"x":0.12,"y":-25},{"c":54,"x":0.16,"y":-45},{"c":54,"x":0.2,"y":-15},{"c":54,"x":0.24,"y":-60},{"c":54,"x":0.28,"y":-25},{"c":54,"x":0.32,"y":-75},{"c":54,"x":0.36,"y":-40},{"c":54,"x":0.4,"y":-85},{"c":54,"x":0.44,"y":-30},{"c":54,"x":0.48,"y":-70},{"c":54,"x":0.5,"y":-45},
{"c":55,"x":-0.5,"y":35},{"c":55,"x":-0.48,"y":75},{"c":55,"x":-0.44,"y":15},{"c":55,"x":-0.4,"y":65},{"c":55,"x":-0.36,"y":25},{"c":55,"x":-0.32,"y":85},{"c":55,"x":-0.28,"y":10},{"c":55,"x":-0.24,"y":55},{"c":55,"x":-0.2,"y":25},{"c":55,"x":-0.16,"y":75},{"c":55,"x":-0.12,"y":0},{"c":55,"x":-0.08,"y":-25},{"c":55,"x":-0.04,"y":-75},{"c":55,"x":0,"y":-95},{"c":55,"x":0.04,"y":-70},{"c":55,"x":0.08,"y":-15},{"c":55,"x":0.12,"y":35},{"c":55,"x":0.16,"y":5},{"c":55,"x":0.2,"y":40},{"c":55,"x":0.24,"y":10},{"c":55,"x":0.28,"y":50},{"c":55,"x":0.32,"y":15},{"c":55,"x":0.36,"y":70},{"c":55,"x":0.4,"y":30},{"c":55,"x":0.44,"y":45},{"c":55,"x":0.48,"y":80},{"c":55,"x":0.5,"y":55},
{"c":56,"x":-0.5,"y":-25},{"c":56,"x":-0.48,"y":-60},{"c":56,"x":-0.44,"y":-35},{"c":56,"x":-0.4,"y":-70},{"c":56,"x":-0.36,"y":-15},{"c":56,"x":-0.32,"y":-50},{"c":56,"x":-0.28,"y":-65},{"c":56,"x":-0.24,"y":-25},{"c":56,"x":-0.2,"y":-55},{"c":56,"x":-0.16,"y":-20},{"c":56,"x":-0.12,"y":-5},{"c":56,"x":-0.08,"y":50},{"c":56,"x":-0.04,"y":110},{"c":56,"x":0,"y":135},{"c":56,"x":0.04,"y":110},{"c":56,"x":0.08,"y":50},{"c":56,"x":0.12,"y":5},{"c":56,"x":0.16,"y":-35},{"c":56,"x":0.2,"y":-55},{"c":56,"x":0.24,"y":-30},{"c":56,"x":0.28,"y":-65},{"c":56,"x":0.32,"y":-45},{"c":56,"x":0.36,"y":-75},{"c":56,"x":0.4,"y":-35},{"c":56,"x":0.44,"y":-60},{"c":56,"x":0.48,"y":-80},{"c":56,"x":0.5,"y":-40},
{"c":20,"x":-0.5,"y":-35},{"c":20,"x":-0.48,"y":-15},{"c":20,"x":-0.44,"y":-45},{"c":20,"x":-0.4,"y":-10},{"c":20,"x":-0.36,"y":-55},{"c":20,"x":-0.32,"y":-20},{"c":20,"x":-0.28,"y":-50},{"c":20,"x":-0.24,"y":-15},{"c":20,"x":-0.2,"y":-40},{"c":20,"x":-0.16,"y":-75},{"c":20,"x":-0.12,"y":-20},{"c":20,"x":-0.08,"y":40},{"c":20,"x":-0.04,"y":120},{"c":20,"x":0,"y":150},{"c":20,"x":0.04,"y":125},{"c":20,"x":0.08,"y":70},{"c":20,"x":0.12,"y":-5},{"c":20,"x":0.16,"y":-30},{"c":20,"x":0.2,"y":5},{"c":20,"x":0.24,"y":-35},{"c":20,"x":0.28,"y":-55},{"c":20,"x":0.32,"y":-20},{"c":20,"x":0.36,"y":-45},{"c":20,"x":0.4,"y":-65},{"c":20,"x":0.44,"y":-35},{"c":20,"x":0.48,"y":-55},{"c":20,"x":0.5,"y":-45},
{"c":27,"x":-0.5,"y":-40},{"c":27,"x":-0.46,"y":-55},{"c":27,"x":-0.42,"y":-25},{"c":27,"x":-0.38,"y":-45},{"c":27,"x":-0.34,"y":-65},{"c":27,"x":-0.3,"y":-30},{"c":27,"x":-0.26,"y":-55},{"c":27,"x":-0.22,"y":-40},{"c":27,"x":-0.18,"y":-60},{"c":27,"x":-0.14,"y":-85},{"c":27,"x":-0.1,"y":-30},{"c":27,"x":-0.06,"y":30},{"c":27,"x":-0.02,"y":95},{"c":27,"x":0.02,"y":110},{"c":27,"x":0.06,"y":75},{"c":27,"x":0.1,"y":30},{"c":27,"x":0.14,"y":-10},{"c":27,"x":0.18,"y":-25},{"c":27,"x":0.22,"y":-35},{"c":27,"x":0.26,"y":-55},{"c":27,"x":0.3,"y":-70},{"c":27,"x":0.34,"y":-90},{"c":27,"x":0.38,"y":-45},{"c":27,"x":0.42,"y":-60},{"c":27,"x":0.46,"y":-85},{"c":27,"x":0.5,"y":-55},
{"c":28,"x":-0.5,"y":80},{"c":28,"x":-0.48,"y":100},{"c":28,"x":-0.44,"y":70},{"c":28,"x":-0.4,"y":50},{"c":28,"x":-0.36,"y":90},{"c":28,"x":-0.32,"y":60},{"c":28,"x":-0.28,"y":30},{"c":28,"x":-0.24,"y":85},{"c":28,"x":-0.2,"y":55},{"c":28,"x":-0.16,"y":70},{"c":28,"x":-0.12,"y":15},{"c":28,"x":-0.08,"y":-40},{"c":28,"x":-0.04,"y":-150},{"c":28,"x":0,"y":-230},{"c":28,"x":0.04,"y":-190},{"c":28,"x":0.08,"y":-90},{"c":28,"x":0.12,"y":-30},{"c":28,"x":0.16,"y":-5},{"c":28,"x":0.2,"y":-25},{"c":28,"x":0.24,"y":-50},{"c":28,"x":0.28,"y":45},{"c":28,"x":0.32,"y":30},{"c":28,"x":0.36,"y":60},{"c":28,"x":0.4,"y":40},{"c":28,"x":0.44,"y":85},{"c":28,"x":0.48,"y":60},{"c":28,"x":0.5,"y":50},
{"c":29,"x":-0.1,"y":5},{"c":29,"x":-0.06,"y":-55},{"c":29,"x":-0.02,"y":-170},{"c":29,"x":0.02,"y":-220},{"c":29,"x":0.06,"y":-170},{"c":29,"x":0.1,"y":-60},
{"c":30,"x":-0.1,"y":-5},{"c":30,"x":-0.06,"y":-50},{"c":30,"x":-0.02,"y":-200},{"c":30,"x":0.02,"y":-260},{"c":30,"x":0.06,"y":-200},{"c":30,"x":0.1,"y":-80},
{"c":31,"x":-0.1,"y":0},{"c":31,"x":-0.06,"y":-30},{"c":31,"x":-0.02,"y":-120},{"c":31,"x":0.02,"y":-150},{"c":31,"x":0.06,"y":-110},{"c":31,"x":0.1,"y":-30},
{"c":32,"x":-0.1,"y":5},{"c":32,"x":-0.06,"y":-40},{"c":32,"x":-0.02,"y":-90},{"c":32,"x":0.02,"y":-130},{"c":32,"x":0.06,"y":-95},{"c":32,"x":0.1,"y":-25},
{"c":33,"x":-0.1,"y":-5},{"c":33,"x":-0.06,"y":-60},{"c":33,"x":-0.02,"y":-140},{"c":33,"x":0.02,"y":-190},{"c":33,"x":0.06,"y":-150},{"c":33,"x":0.1,"y":-50},
{"c":34,"x":-0.1,"y":-10},{"c":34,"x":-0.06,"y":-70},{"c":34,"x":-0.02,"y":-160},{"c":34,"x":0.02,"y":-200},{"c":34,"x":0.06,"y":-180},{"c":34,"x":0.1,"y":-100},
{"c":35,"x":-0.1,"y":0},{"c":35,"x":-0.06,"y":-15},{"c":35,"x":-0.02,"y":-40},{"c":35,"x":0.02,"y":-60},{"c":35,"x":0.06,"y":-45},{"c":35,"x":0.1,"y":-10},
{"c":36,"x":-0.1,"y":5},{"c":36,"x":-0.06,"y":-20},{"c":36,"x":-0.02,"y":-70},{"c":36,"x":0.02,"y":-90},{"c":36,"x":0.06,"y":-75},{"c":36,"x":0.1,"y":-20},
{"c":37,"x":-0.1,"y":-10},{"c":37,"x":-0.06,"y":90},{"c":37,"x":-0.02,"y":220},{"c":37,"x":0.02,"y":260},{"c":37,"x":0.06,"y":220},{"c":37,"x":0.1,"y":90},
{"c":38,"x":-0.1,"y":-5},{"c":38,"x":-0.06,"y":70},{"c":38,"x":-0.02,"y":190},{"c":38,"x":0.02,"y":230},{"c":38,"x":0.06,"y":180},{"c":38,"x":0.1,"y":70},
{"c":39,"x":-0.1,"y":-5},{"c":39,"x":-0.06,"y":60},{"c":39,"x":-0.02,"y":150},{"c":39,"x":0.02,"y":190},{"c":39,"x":0.06,"y":160},{"c":39,"x":0.1,"y":60},
{"c":40,"x":-0.1,"y":0},{"c":40,"x":-0.06,"y":40},{"c":40,"x":-0.02,"y":130},{"c":40,"x":0.02,"y":170},{"c":40,"x":0.06,"y":130},{"c":40,"x":0.1,"y":50},
{"c":41,"x":-0.1,"y":0},{"c":41,"x":-0.06,"y":50},{"c":41,"x":-0.02,"y":100},{"c":41,"x":0.02,"y":120},{"c":41,"x":0.06,"y":100},{"c":41,"x":0.1,"y":30},
{"c":42,"x":-0.1,"y":0},{"c":42,"x":-0.06,"y":30},{"c":42,"x":-0.02,"y":80},{"c":42,"x":0.02,"y":100},{"c":42,"x":0.06,"y":90},{"c":42,"x":0.1,"y":40},
{"c":43,"x":-0.1,"y":5},{"c":43,"x":-0.06,"y":20},{"c":43,"x":-0.02,"y":50},{"c":43,"x":0.02,"y":70},{"c":43,"x":0.06,"y":50},{"c":43,"x":0.1,"y":15},
{"c":44,"x":-0.1,"y":0},{"c":44,"x":-0.06,"y":10},{"c":44,"x":-0.02,"y":40},{"c":44,"x":0.02,"y":55},{"c":44,"x":0.06,"y":40},{"c":44,"x":0.1,"y":10},
{"c":45,"x":-0.1,"y":-5},{"c":45,"x":-0.06,"y":50},{"c":45,"x":-0.02,"y":160},{"c":45,"x":0.02,"y":205},{"c":45,"x":0.06,"y":150},{"c":45,"x":0.1,"y":60},
{"c":46,"x":-0.1,"y":0},{"c":46,"x":-0.06,"y":-5},{"c":46,"x":-0.02,"y":20},{"c":46,"x":0.02,"y":25},{"c":46,"x":0.06,"y":15},{"c":46,"x":0.1,"y":0},
{"c":47,"x":-0.1,"y":5},{"c":47,"x":-0.06,"y":-30},{"c":47,"x":-0.02,"y":-60},{"c":47,"x":0.02,"y":-80},{"c":47,"x":0.06,"y":-60},{"c":47,"x":0.1,"y":-15},
{"c":48,"x":-0.1,"y":-5},{"c":48,"x":-0.06,"y":0},{"c":48,"x":-0.02,"y":-20},{"c":48,"x":0.02,"y":-30},{"c":48,"x":0.06,"y":-15},{"c":48,"x":0.1,"y":-5},
{"c":49,"x":-0.1,"y":0},{"c":49,"x":-0.06,"y":80},{"c":49,"x":-0.02,"y":170},{"c":49,"x":0.02,"y":210},{"c":49,"x":0.06,"y":200},{"c":49,"x":0.1,"y":110},
{"c":50,"x":-0.1,"y":0},{"c":50,"x":-0.06,"y":25},{"c":50,"x":-0.02,"y":70},{"c":50,"x":0.02,"y":95},{"c":50,"x":0.06,"y":70},{"c":50,"x":0.1,"y":20},
{"c":21,"x":-0.5,"y":-5},{"c":21,"x":-0.46,"y":-25},{"c":21,"x":-0.42,"y":-40},{"c":21,"x":-0.38,"y":-15},{"c":21,"x":-0.34,"y":-30},{"c":21,"x":-0.3,"y":-5},{"c":21,"x":-0.26,"y":-35},{"c":21,"x":-0.22,"y":-15},{"c":21,"x":-0.18,"y":-30},{"c":21,"x":-0.14,"y":-45},{"c":21,"x":-0.1,"y":-10},{"c":21,"x":-0.06,"y":25},{"c":21,"x":-0.02,"y":70},{"c":21,"x":0.02,"y":85},{"c":21,"x":0.06,"y":50},{"c":21,"x":0.1,"y":15},{"c":21,"x":0.14,"y":-5},{"c":21,"x":0.18,"y":-25},{"c":21,"x":0.22,"y":-15},{"c":21,"x":0.26,"y":-40},{"c":21,"x":0.3,"y":-20},{"c":21,"x":0.34,"y":-45},{"c":21,"x":0.38,"y":-15},{"c":21,"x":0.42,"y":-35},{"c":21,"x":0.46,"y":-10},{"c":21,"x":0.5,"y":-25},
{"c":22,"x":-0.5,"y":70},{"c":22,"x":-0.48,"y":90},{"c":22,"x":-0.44,"y":50},{"c":22,"x":-0.4,"y":75},{"c":22,"x":-0.36,"y":40},{"c":22,"x":-0.32,"y":65},{"c":22,"x":-0.28,"y":25},{"c":22,"x":-0.24,"y":45},{"c":22,"x":-0.2,"y":60},{"c":22,"x":-0.16,"y":100},{"c":22,"x":-0.12,"y":5},{"c":22,"x":-0.08,"y":-25},{"c":22,"x":-0.04,"y":-125},{"c":22,"x":0,"y":-165},{"c":22,"x":0.04,"y":-120},{"c":22,"x":0.08,"y":-55},{"c":22,"x":0.12,"y":-15},{"c":22,"x":0.16,"y":15},{"c":22,"x":0.2,"y":40},{"c":22,"x":0.24,"y":20},{"c":22,"x":0.28,"y":35},{"c":22,"x":0.32,"y":55},{"c":22,"x":0.36,"y":90},{"c":22,"x":0.4,"y":60},{"c":22,"x":0.44,"y":45},{"c":22,"x":0.48,"y":70},{"c":22,"x":0.5,"y":60},
{"c":19,"x":-0.5,"y":50},{"c":19,"x":-0.46,"y":70},{"c":19,"x":-0.42,"y":35},{"c":19,"x":-0.38,"y":60},{"c":19,"x":-0.34,"y":25},{"c":19,"x":-0.3,"y":65},{"c":19,"x":-0.26,"y":30},{"c":19,"x":-0.22,"y":50},{"c":19,"x":-0.18,"y":15},{"c":19,"x":-0.14,"y":40},{"c":19,"x":-0.1,"y":-10},{"c":19,"x":-0.06,"y":-35},{"c":19,"x":-0.02,"y":-65},{"c":19,"x":0.02,"y":-75},{"c":19,"x":0.06,"y":-60},{"c":19,"x":0.1,"y":-20},{"c":19,"x":0.14,"y":-10},{"c":19,"x":0.18,"y":20},{"c":19,"x":0.22,"y":-25},{"c":19,"x":0.26,"y":-15},{"c":19,"x":0.3,"y":10},{"c":19,"x":0.34,"y":-20},{"c":19,"x":0.38,"y":35},{"c":19,"x":0.42,"y":20},{"c":19,"x":0.46,"y":60},{"c":19,"x":0.5,"y":35},
{"c":18,"x":-0.5,"y":45},{"c":18,"x":-0.48,"y":30},{"c":18,"x":-0.44,"y":55},{"c":18,"x":-0.4,"y":25},{"c":18,"x":-0.36,"y":40},{"c":18,"x":-0.32,"y":15},{"c":18,"x":-0.28,"y":35},{"c":18,"x":-0.24,"y":5},{"c":18,"x":-0.2,"y":30},{"c":18,"x":-0.16,"y":45},{"c":18,"x":-0.12,"y":-5},{"c":18,"x":-0.08,"y":-30},{"c":18,"x":-0.04,"y":-85},{"c":18,"x":0,"y":-105},{"c":18,"x":0.04,"y":-80},{"c":18,"x":0.08,"y":-25},{"c":18,"x":0.12,"y":5},{"c":18,"x":0.16,"y":35},{"c":18,"x":0.2,"y":15},{"c":18,"x":0.24,"y":25},{"c":18,"x":0.28,"y":-5},{"c":18,"x":0.32,"y":15},{"c":18,"x":0.36,"y":25},{"c":18,"x":0.4,"y":10},{"c":18,"x":0.44,"y":-5},{"c":18,"x":0.48,"y":20},{"c":18,"x":0.5,"y":15},
{"c":17,"x":-0.5,"y":-20},{"c":17,"x":-0.46,"y":5},{"c":17,"x":-0.42,"y":-15},{"c":17,"x":-0.38,"y":15},{"c":17,"x":-0.34,"y":-25},{"c":17,"x":-0.3,"y":5},{"c":17,"x":-0.26,"y":-20},{"c":17,"x":-0.22,"y":10},{"c":17,"x":-0.18,"y":-15},{"c":17,"x":-0.14,"y":20},{"c":17,"x":-0.1,"y":-5},{"c":17,"x":-0.06,"y":30},{"c":17,"x":-0.02,"y":60},{"c":17,"x":0.02,"y":75},{"c":17,"x":0.06,"y":60},{"c":17,"x":0.1,"y":20},{"c":17,"x":0.14,"y":-5},{"c":17,"x":0.18,"y":15},{"c":17,"x":0.22,"y":-10},{"c":17,"x":0.26,"y":15},{"c":17,"x":0.3,"y":-20},{"c":17,"x":0.34,"y":5},{"c":17,"x":0.38,"y":-30},{"c":17,"x":0.42,"y":-45},{"c":17,"x":0.46,"y":-15},{"c":17,"x":0.5,"y":-30},
{"c":23,"x":-0.5,"y":15},{"c":23,"x":-0.46,"y":-5},{"c":23,"x":-0.42,"y":30},{"c":23,"x":-0.38,"y":0},{"c":23,"x":-0.34,"y":20},{"c":23,"x":-0.3,"y":-10},{"c":23,"x":-0.26,"y":25},{"c":23,"x":-0.22,"y":-5},{"c":23,"x":-0.18,"y":15},{"c":23,"x":-0.14,"y":-20},{"c":23,"x":-0.1,"y":0},{"c":23,"x":-0.06,"y":20},{"c":23,"x":-0.02,"y":45},{"c":23,"x":0.02,"y":40},{"c":23,"x":0.06,"y":55},{"c":23,"x":0.1,"y":10},{"c":23,"x":0.14,"y":-25},{"c":23,"x":0.18,"y":-5},{"c":23,"x":0.22,"y":-20},{"c":23,"x":0.26,"y":-35},{"c":23,"x":0.3,"y":-10},{"c":23,"x":0.34,"y":-20},{"c":23,"x":0.38,"y":-5},{"c":23,"x":0.42,"y":-25},{"c":23,"x":0.46,"y":0},{"c":23,"x":0.5,"y":-10},
{"c":16,"x":-0.5,"y":25},{"c":16,"x":-0.48,"y":40},{"c":16,"x":-0.44,"y":5},{"c":16,"x":-0.4,"y":30},{"c":16,"x":-0.36,"y":-5},{"c":16,"x":-0.32,"y":20},{"c":16,"x":-0.28,"y":-10},{"c":16,"x":-0.24,"y":25},{"c":16,"x":-0.2,"y":35},{"c":16,"x":-0.16,"y":5},{"c":16,"x":-0.12,"y":-10},{"c":16,"x":-0.08,"y":-20},{"c":16,"x":-0.04,"y":-40},{"c":16,"x":0,"y":-55},{"c":16,"x":0.04,"y":-35},{"c":16,"x":0.08,"y":-15},{"c":16,"x":0.12,"y":10},{"c":16,"x":0.16,"y":-10},{"c":16,"x":0.2,"y":15},{"c":16,"x":0.24,"y":-5},{"c":16,"x":0.28,"y":10},{"c":16,"x":0.32,"y":-15},{"c":16,"x":0.36,"y":10},{"c":16,"x":0.4,"y":-20},{"c":16,"x":0.44,"y":15},{"c":16,"x":0.48,"y":-10},{"c":16,"x":0.5,"y":5},
{"c":15,"x":-0.5,"y":10},{"c":15,"x":-0.46,"y":-15},{"c":15,"x":-0.42,"y":25},{"c":15,"x":-0.38,"y":-10},{"c":15,"x":-0.34,"y":15},{"c":15,"x":-0.3,"y":-20},{"c":15,"x":-0.26,"y":10},{"c":15,"x":-0.22,"y":-25},{"c":15,"x":-0.18,"y":5},{"c":15,"x":-0.14,"y":-15},{"c":15,"x":-0.1,"y":-5},{"c":15,"x":-0.06,"y":15},{"c":15,"x":-0.02,"y":30},{"c":15,"x":0.02,"y":10},{"c":15,"x":0.06,"y":35},{"c":15,"x":0.1,"y":0},{"c":15,"x":0.14,"y":-15},{"c":15,"x":0.18,"y":10},{"c":15,"x":0.22,"y":-20},{"c":15,"x":0.26,"y":5},{"c":15,"x":0.3,"y":-25},{"c":15,"x":0.34,"y":-5},{"c":15,"x":0.38,"y":-40},{"c":15,"x":0.42,"y":-10},{"c":15,"x":0.46,"y":-30},{"c":15,"x":0.5,"y":-15},
{"c":53,"x":-0.5,"y":30},{"c":53,"x":-0.48,"y":-40},{"c":53,"x":-0.44,"y":45},{"c":53,"x":-0.4,"y":-30},{"c":53,"x":-0.36,"y":50},{"c":53,"x":-0.32,"y":-25},{"c":53,"x":-0.28,"y":40},{"c":53,"x":-0.24,"y":-45},{"c":53,"x":-0.2,"y":25},{"c":53,"x":-0.16,"y":-35},{"c":53,"x":-0.12,"y":5},{"c":53,"x":-0.08,"y":15},{"c":53,"x":-0.04,"y":25},{"c":53,"x":0,"y":15},{"c":53,"x":0.04,"y":30},{"c":53,"x":0.08,"y":-10},{"c":53,"x":0.12,"y":-30},{"c":53,"x":0.16,"y":20},{"c":53,"x":0.2,"y":-35},{"c":53,"x":0.24,"y":15},{"c":53,"x":0.28,"y":-40},{"c":53,"x":0.32,"y":25},{"c":53,"x":0.36,"y":-55},{"c":53,"x":0.4,"y":10},{"c":53,"x":0.44,"y":-50},{"c":53,"x":0.48,"y":20},{"c":53,"x":0.5,"y":-15},
{"c":57,"x":-0.5,"y":20},{"c":57,"x":-0.48,"y":50},{"c":57,"x":-0.44,"y":-20},{"c":57,"x":-0.4,"y":40},{"c":57,"x":-0.36,"y":-30},{"c":57,"x":-0.32,"y":35},{"c":57,"x":-0.28,"y":-25},{"c":57,"x":-0.24,"y":50},{"c":57,"x":-0.2,"y":-15},{"c":57,"x":-0.16,"y":30},{"c":57,"x":-0.12,"y":-5},{"c":57,"x":-0.08,"y":-10},{"c":57,"x":-0.04,"y":10},{"c":57,"x":0,"y":-15},{"c":57,"x":0.04,"y":10},{"c":57,"x":0.08,"y":-5},{"c":57,"x":0.12,"y":20},{"c":57,"x":0.16,"y":-20},{"c":57,"x":0.2,"y":25},{"c":57,"x":0.24,"y":-25},{"c":57,"x":0.28,"y":30},{"c":57,"x":0.32,"y":-30},{"c":57,"x":0.36,"y":15},{"c":57,"x":0.4,"y":-40},{"c":57,"x":0.44,"y":20},{"c":57,"x":0.48,"y":-35},{"c":57,"x":0.5,"y":0},
{"c":58,"x":-0.5,"y":-15},{"c":58,"x":-0.48,"y":20},{"c":58,"x":-0.44,"y":-35},{"c":58,"x":-0.4,"y":25},{"c":58,"x":-0.36,"y":-20},{"c":58,"x":-0.32,"y":30},{"c":58,"x":-0.28,"y":-30},{"c":58,"x":-0.24,"y":15},{"c":58,"x":-0.2,"y":-40},{"c":58,"x":-0.16,"y":10},{"c":58,"x":-0.12,"y":-10},{"c":58,"x":-0.08,"y":-20},{"c":58,"x":-0.04,"y":-50},{"c":58,"x":0,"y":-65},{"c":58,"x":0.04,"y":-50},{"c":58,"x":0.08,"y":-10},{"c":58,"x":0.12,"y":15},{"c":58,"x":0.16,"y":30},{"c":58,"x":0.2,"y":-15},{"c":58,"x":0.24,"y":20},{"c":58,"x":0.28,"y":-25},{"c":58,"x":0.32,"y":10},{"c":58,"x":0.36,"y":-30},{"c":58,"x":0.4,"y":15},{"c":58,"x":0.44,"y":-35},{"c":58,"x":0.48,"y":5},{"c":58,"x":0.5,"y":-20},
{"c":24,"x":-0.5,"y":5},{"c":24,"x":-0.48,"y":15},{"c":24,"x":-0.44,"y":-10},{"c":24,"x":-0.4,"y":20},{"c":24,"x":-0.36,"y":-15},{"c":24,"x":-0.32,"y":15},{"c":24,"x":-0.28,"y":-5},{"c":24,"x":-0.24,"y":10},{"c":24,"x":-0.2,"y":-20},{"c":24,"x":-0.16,"y":5},{"c":24,"x":-0.12,"y":-10},{"c":24,"x":-0.08,"y":-15},{"c":24,"x":-0.04,"y":-30},{"c":24,"x":0,"y":-20},{"c":24,"x":0.04,"y":-45},{"c":24,"x":0.08,"y":-10},{"c":24,"x":0.12,"y":5},{"c":24,"x":0.16,"y":-5},{"c":24,"x":0.2,"y":10},{"c":24,"x":0.24,"y":-10},{"c":24,"x":0.28,"y":-20},{"c":24,"x":0.32,"y":0},{"c":24,"x":0.36,"y":-15},{"c":24,"x":0.4,"y":5},{"c":24,"x":0.44,"y":-25},{"c":24,"x":0.48,"y":10},{"c":24,"x":0.5,"y":-5},
{"c":25,"x":-0.5,"y":-10},{"c":25,"x":-0.46,"y":10},{"c":25,"x":-0.42,"y":-5},{"c":25,"x":-0.38,"y":20},{"c":25,"x":-0.34,"y":0},{"c":25,"x":-0.3,"y":15},{"c":25,"x":-0.26,"y":-15},{"c":25,"x":-0.22,"y":15},{"c":25,"x":-0.18,"y":-5},{"c":25,"x":-0.14,"y":10},{"c":25,"x":-0.1,"y":0},{"c":25,"x":-0.06,"y":-10},{"c":25,"x":-0.02,"y":15},{"c":25,"x":0.02,"y":-10},{"c":25,"x":0.06,"y":-20},{"c":25,"x":0.1,"y":5},{"c":25,"x":0.14,"y":10},{"c":25,"x":0.18,"y":-15},{"c":25,"x":0.22,"y":-5},{"c":25,"x":0.26,"y":10},{"c":25,"x":0.3,"y":-5},{"c":25,"x":0.34,"y":15},{"c":25,"x":0.38,"y":-20},{"c":25,"x":0.42,"y":5},{"c":25,"x":0.46,"y":-10},{"c":25,"x":0.5,"y":10},
{"c":26,"x":-0.5,"y":0},{"c":26,"x":-0.48,"y":-20},{"c":26,"x":-0.44,"y":15},{"c":26,"x":-0.4,"y":-15},{"c":26,"x":-0.36,"y":10},{"c":26,"x":-0.32,"y":-10},{"c":26,"x":-0.28,"y":20},{"c":26,"x":-0.24,"y":-5},{"c":26,"x":-0.2,"y":10},{"c":26,"x":-0.16,"y":-25},{"c":26,"x":-0.12,"y":5},{"c":26,"x":-0.08,"y":10},{"c":26,"x":-0.04,"y":20},{"c":26,"x":0,"y":35},{"c":26,"x":0.04,"y":15},{"c":26,"x":0.08,"y":-5},{"c":26,"x":0.12,"y":-10},{"c":26,"x":0.16,"y":15},{"c":26,"x":0.2,"y":-10},{"c":26,"x":0.24,"y":-15},{"c":26,"x":0.28,"y":10},{"c":26,"x":0.32,"y":-25},{"c":26,"x":0.36,"y":-10},{"c":26,"x":0.4,"y":-30},{"c":26,"x":0.44,"y":-5},{"c":26,"x":0.48,"y":-20},{"c":26,"x":0.5,"y":-10}
]},"mark":{"type":"line","strokeWidth":0.9,"opacity":0.8},"encoding":{"color":{"field":"c","type":"nominal","legend":null,"sort":null,"scale":{"domain":[1,2,3,4,5,6,7,8,9,10,11,12,13,14,15,16,17,18,19,20,21,22,23,24,25,26,27,28,29,30,31,32,33,34,35,36,37,38,39,40,41,42,43,44,45,46,47,48,49,50,51,52,53,54,55,56,57,58],"range":["#ffaa33","#ff9f2e","#f5d77c","#ffb877","#ffbb55","#22b14c","#55e27f","#33c46a","#f0555a","#e0222a","#0f4a50","#1a6f8f","#2f8fc0","#1f5a35","#8a1fb0","#b01fa0","#6a30c0","#c2185b","#e0408a","#40a0a0","#5050c8","#ff6a5a","#a050e0","#8f1f7f","#a020a8","#7a28b8","#204a90","#28a860","#e8303a","#d8202a","#f06090","#c82060","#c81030","#30b060","#8030b0","#b82090","#0f4a50","#15404a","#2f80c0","#209090","#3070b0","#ff9933","#9040c0","#7040d0","#1f6040","#b030a0","#ff7070","#9030a0","#103f50","#3090d0","#1a7f8f","#d03090","#7a20b0","#2050a0","#e84060","#0e6040","#a030c0","#b02070"]}}}},
{"data":{"values":[{"k":"a","x":-0.2547,"y":1448},{"k":"a","x":-0.01,"y":1171},{"k":"a","x":-0.01,"y":-676},{"k":"b","x":0.0875,"y":1448},{"k":"b","x":0.36,"y":1171},{"k":"b","x":0.36,"y":-676},{"k":"c","x":0.4297,"y":1448},{"k":"c","x":0.42,"y":1171},{"k":"c","x":0.42,"y":-676}]},"mark":{"type":"line","stroke":"#aaaaaa","strokeWidth":2},"encoding":{"detail":{"field":"k"},"order":{"value":null}}},
{"data":{"values":[{"x":-0.5,"y":-676.2,"x2":0.5,"y2":1171.4}]},"mark":{"type":"rect","fillOpacity":0,"stroke":"black","strokeWidth":1.1},"encoding":{"x2":{"field":"x2"},"y2":{"field":"y2"}}},
{"data":{"values":[
{"k":1,"x":-0.434,"y":986},{"k":2,"x":-0.4422,"y":986},{"k":3,"x":-0.4504,"y":986},
{"k":4,"x":-0.4586,"y":936},{"k":5,"x":-0.4504,"y":936},{"k":6,"x":-0.4422,"y":936},{"k":7,"x":-0.434,"y":936},{"k":8,"x":-0.4258,"y":936},
{"k":9,"x":-0.4586,"y":886},{"k":10,"x":-0.4504,"y":886},{"k":11,"x":-0.4422,"y":886},{"k":12,"x":-0.434,"y":886},{"k":13,"x":-0.4258,"y":886},
{"k":14,"x":-0.4586,"y":836},{"k":15,"x":-0.4504,"y":836},{"k":16,"x":-0.4422,"y":836},{"k":17,"x":-0.434,"y":836},{"k":18,"x":-0.4258,"y":836},
{"k":19,"x":-0.4504,"y":786},{"k":20,"x":-0.4422,"y":786},{"k":21,"x":-0.434,"y":786}
]},"mark":{"type":"point","shape":"circle","filled":true,"size":46,"opacity":1},"encoding":{"color":{"field":"k","type":"nominal","legend":null,"scale":{"domain":[1,2,3,4,5,6,7,8,9,10,11,12,13,14,15,16,17,18,19,20,21],"range":["#b8e8e8","#90e8e0","#60d8b8","#30a8a0","#60c0d0","#90c0f0","#b8b8f8","#e0a8f0","#2878a0","#5090d0","#8090f0","#b088f8","#e080e8","#204a78","#4850a0","#7058c0","#a050d0","#d850c0","#482868","#782878","#a02888"]}}}},
{"data":{"values":[
{"k":1,"x":-0.4495,"y":1044},{"k":2,"x":-0.457,"y":1035},{"k":3,"x":-0.4417,"y":1057},{"k":4,"x":-0.435,"y":1050},{"k":5,"x":-0.427,"y":1035},{"k":6,"x":-0.421,"y":1003},{"k":7,"x":-0.4115,"y":962},{"k":8,"x":-0.4016,"y":946},{"k":9,"x":-0.399,"y":870},{"k":10,"x":-0.401,"y":790},{"k":11,"x":-0.406,"y":717},{"k":12,"x":-0.414,"y":660},{"k":13,"x":-0.4245,"y":619},{"k":14,"x":-0.436,"y":597},{"k":15,"x":-0.4484,"y":597},{"k":16,"x":-0.46,"y":619},{"k":17,"x":-0.47,"y":664},{"k":18,"x":-0.4777,"y":721},{"k":19,"x":-0.482,"y":790},{"k":20,"x":-0.485,"y":867},{"k":21,"x":-0.482,"y":946},{"k":22,"x":-0.4724,"y":962},{"k":23,"x":-0.4625,"y":997},
{"k":24,"x":-0.473,"y":892},{"k":25,"x":-0.4745,"y":841},{"k":26,"x":-0.473,"y":788},{"k":27,"x":-0.4667,"y":733},{"k":28,"x":-0.46,"y":692},{"k":29,"x":-0.451,"y":660},{"k":30,"x":-0.4417,"y":650},{"k":31,"x":-0.4323,"y":664},{"k":32,"x":-0.4234,"y":686},{"k":33,"x":-0.4156,"y":733},{"k":34,"x":-0.4105,"y":788},{"k":35,"x":-0.409,"y":841},{"k":36,"x":-0.4105,"y":898}
]},"mark":{"type":"point","shape":"circle","filled":true,"size":26,"opacity":1},"encoding":{"color":{"field":"k","type":"nominal","legend":null,"scale":{"domain":[1,2,3,4,5,6,7,8,9,10,11,12,13,14,15,16,17,18,19,20,21,22,23,24,25,26,27,28,29,30,31,32,33,34,35,36],"range":["#66e07f","#3fd67a","#7fe870","#b4f080","#d0e070","#e0d070","#f5a830","#ff9900","#ff7700","#ff5a10","#ff4400","#dd0000","#b00000","#800000","#770000","#550000","#3a2a10","#2a3a10","#004d00","#008000","#009020","#008a3a","#20c060","#007a40","#00664a","#205a50","#304a70","#402a50","#70104a","#900a3a","#a0102a","#c01020","#e02a20","#f05030","#f56a30","#f58840"]}}}},
{"data":{"values":[{"k":"n","x":-0.4453,"y":1019},{"k":"n","x":-0.4417,"y":1050},{"k":"n","x":-0.438,"y":1019},{"k":"l","x":-0.4656,"y":914},{"k":"l","x":-0.4656,"y":857},{"k":"r","x":-0.4188,"y":914},{"k":"r","x":-0.4188,"y":857}]},"mark":{"type":"line","stroke":"black","strokeWidth":1.3},"encoding":{"detail":{"field":"k"},"order":{"value":null}}},
{"data":{"values":[{"x":-0.4422,"y":886}]},"mark":{"type":"point","shape":"circle","filled":false,"size":707,"stroke":"black","strokeWidth":1.3,"opacity":1}},
{"data":{"values":[{"t":"-0.010 s","x":-0.2547,"y":2448},{"t":"0.360 s","x":0.0875,"y":2448},{"t":"0.420 s","x":0.4297,"y":2448}]},"mark":{"type":"text","fontSize":16.67,"align":"center","baseline":"alphabetic","color":"black"},"encoding":{"text":{"field":"t"}}},
{"data":{"values":[{"t":"N","x":0.4094,"y":1257},{"t":"=10","x":0.455,"y":1257}]},"mark":{"type":"text","fontSize":13.9,"align":"left","baseline":"alphabetic","color":"black"},"encoding":{"text":{"field":"t"}}},
{"data":{"values":[{"t":"ave","x":0.4265,"y":1229}]},"mark":{"type":"text","fontSize":9.7,"align":"left","baseline":"alphabetic","color":"black"},"encoding":{"text":{"field":"t"}}}
]}
